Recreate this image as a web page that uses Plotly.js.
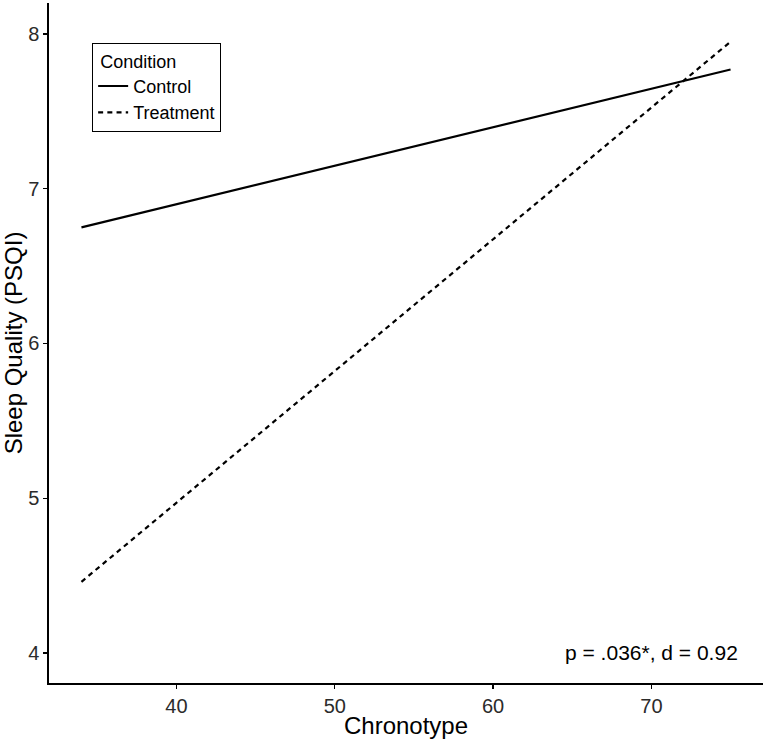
<!DOCTYPE html>
<html>
<head>
<meta charset="utf-8">
<script src="https://cdn.plot.ly/plotly-3.0.1.min.js"></script>
<style>
  html, body { margin: 0; padding: 0; background: #fff; }
  #chart { width: 765px; height: 739px; }
</style>
</head>
<body>
<div id="chart"></div>
<script>
// fitted lines
const chronotype = [34, 75];
const controlPsqi = [6.75, 7.77];
const treatmentPsqi = [4.46, 7.95];

const xTicks = [40, 50, 60, 70];
const yTicks = [4, 5, 6, 7, 8];
const statLabel = "p = .036*, d = 0.92";

const FONT = "Liberation Sans, Arial, Helvetica, sans-serif";

const traces = [
  {
    type: "scatter",
    mode: "lines",
    name: "Control",
    x: chronotype,
    y: controlPsqi,
    line: { color: "#000", width: 2.2 },
    hoverinfo: "skip",
  },
  {
    type: "scatter",
    mode: "lines",
    name: "Treatment",
    x: chronotype,
    y: treatmentPsqi,
    line: { color: "#000", width: 2.2, dash: "5px,4.2px" },
    hoverinfo: "skip",
  },
];

const axisBase = {
  showgrid: false,
  zeroline: false,
  showline: true,
  linecolor: "#000",
  linewidth: 1.6,
  ticks: "outside",
  ticklen: 4,
  tickwidth: 1.3,
  tickcolor: "#000",
  tickfont: { family: FONT, size: 20, color: "#2b2b2b" },
  tickmode: "array",
};

const layout = {
  width: 765,
  height: 739,
  margin: { l: 49, r: 2, t: 3, b: 56 },
  paper_bgcolor: "#fff",
  plot_bgcolor: "#fff",
  font: { family: FONT, color: "#000" },
  showlegend: true,
  xaxis: {
    ...axisBase,
    range: [31.95, 77.05],
    tickvals: xTicks,
    title: { text: "Chronotype", font: { family: FONT, size: 24, color: "#000" }, standoff: 2 },
  },
  yaxis: {
    ...axisBase,
    range: [3.806, 8.2],
    tickvals: yTicks,
    title: { text: "Sleep Quality (PSQI)", font: { family: FONT, size: 24, color: "#000" }, standoff: 10 },
  },
  legend: {
    x: 0.06,
    y: 0.941,
    xanchor: "left",
    yanchor: "top",
    bgcolor: "#fff",
    bordercolor: "#000",
    borderwidth: 1.3,
    font: { family: FONT, size: 18, color: "#000" },
    title: { text: " Condition", font: { family: FONT, size: 18, color: "#000" } },
    tracegroupgap: 0,
  },
  annotations: [
    {
      text: statLabel,
      x: 75.6,
      y: 4,
      xref: "x",
      yref: "y",
      xanchor: "right",
      yanchor: "middle",
      showarrow: false,
      font: { family: FONT, size: 21, color: "#000" },
    },
  ],
};

Plotly.newPlot("chart", traces, layout, { displayModeBar: false, staticPlot: true });
</script>
</body>
</html>
